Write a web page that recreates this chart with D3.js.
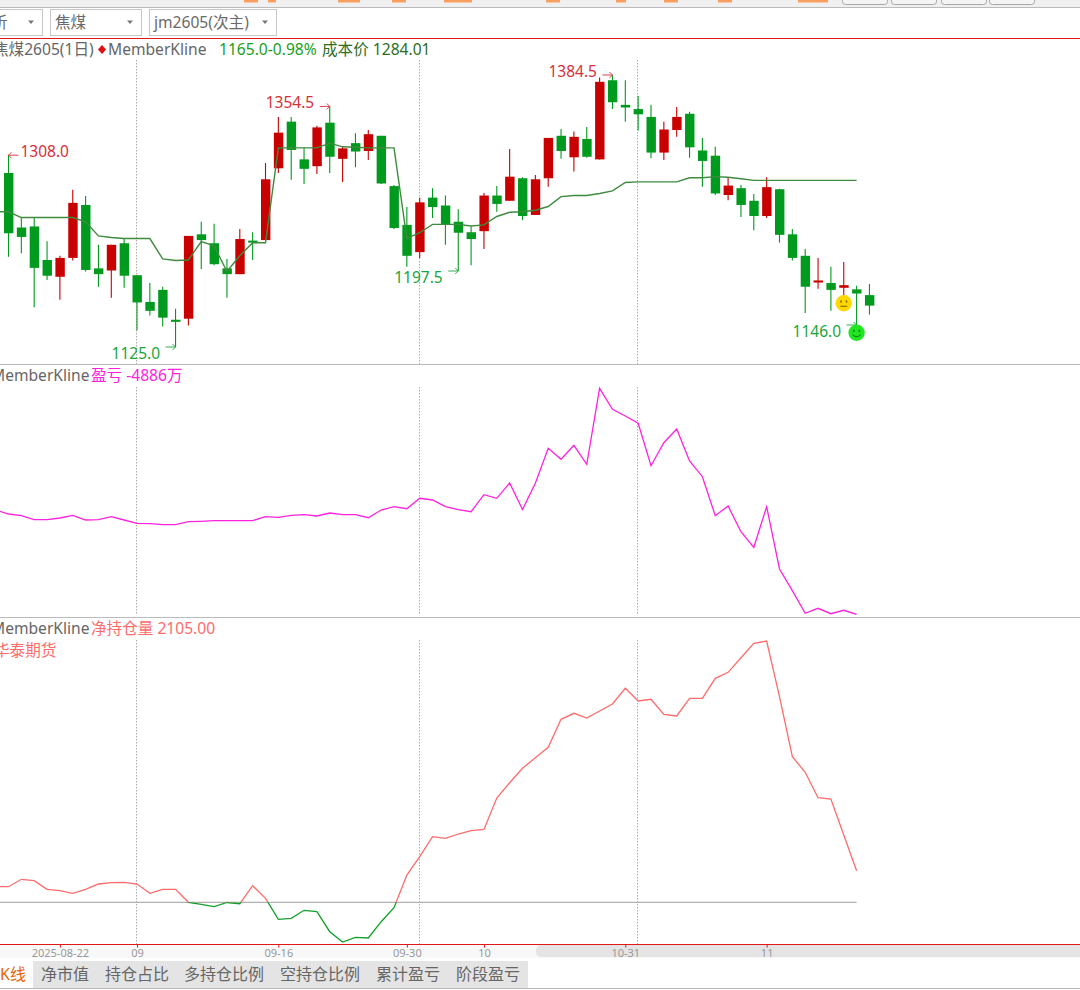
<!DOCTYPE html>
<html>
<head>
<meta charset="utf-8">
<script src="https://cdn.jsdelivr.net/npm/d3@7"></script>
<style>
html,body{margin:0;padding:0;background:#fff;overflow:hidden;}
text{font-family:"Noto Sans","Noto Sans CJK SC",sans-serif;}
</style>
</head>
<body>
<div id="chart"></div>
<script>
// kline values, one entry per visible day (first one at slot 1 of the x scale)
var opens = [1291,1239,1240,1208,1192,1210,1260.5,1200,1198,1224,1193.5,1168,1179.5,1151,1152,1232.5,1224,1200,1194.5,1226.5,1227,1295.5,1340,1304,1297.5,1339,1304.5,1319.5,1312,1326.5,1278.5,1241.5,1215.5,1267.5,1260,1244.5,1234.5,1235.5,1269.5,1264.5,1286,1251,1286,1326.5,1306,1323.5,1304,1379.5,1356,1352,1344.5,1310.5,1332,1347.5,1312.5,1307.5,1270,1276.5,1264.5,1250,1275.5,1232.5,1212,1186.5,1186,1181.5,1180,1174.5];
var highs = [1308,1249,1248.5,1226,1212,1275,1269,1222.5,1222.5,1229,1193.5,1186,1182.5,1161.5,1231,1244.5,1242.5,1209,1237.5,1234.5,1300.5,1344.5,1344.5,1315,1336,1354.5,1316,1329,1332,1326.5,1279.5,1258.5,1267.5,1276.5,1269.5,1256.5,1240,1272,1278.5,1314,1287,1289,1324.5,1333,1330.5,1335,1382,1384.5,1379.5,1364.5,1356,1340,1354,1349.5,1324.5,1316,1287,1279.5,1271,1287,1276,1237.5,1218.5,1210,1201.5,1206,1183.5,1185];
var lows = [1211,1214.5,1163,1189,1170,1207.5,1197,1182.5,1172,1181.5,1141,1155,1144.5,1125,1145.5,1199.5,1203,1172,1194.5,1208,1227,1291,1284.5,1280.5,1290,1291,1282.5,1296.5,1303.5,1280.5,1237.5,1201.5,1210,1248,1222.5,1197.5,1203,1218.5,1254,1264.5,1246,1251,1278,1304.5,1292.5,1305.5,1304,1352,1340,1331.5,1305,1303.5,1325.5,1305.5,1278,1270,1265,1249,1236.5,1248,1224.5,1207.5,1157.5,1180.5,1159.5,1173,1146,1156];
var closes = [1233.5,1230,1200.5,1193,1210,1262.5,1198.5,1194.5,1222.5,1193,1167.5,1159.5,1153,1149,1231,1227,1204,1194.5,1228,1225,1285,1329.5,1313,1295,1334.5,1306.5,1314.5,1311.5,1328,1281,1238.5,1212,1263,1258.5,1241.5,1234,1228,1269.5,1261.5,1287.5,1250,1285,1324.5,1312,1325.5,1306.5,1378,1358.5,1353.5,1347,1310.5,1332.5,1344.5,1315.5,1302.5,1271.5,1279,1260.5,1250,1277.5,1232,1210,1182.5,1188.5,1179.5,1184,1176,1164.5];

// lines start one slot earlier, they run off the left edge
var costLine = [1254,1254,1248.5,1248.5,1248.5,1248.5,1248.5,1244.5,1231,1229.5,1228.5,1228.5,1228.5,1209,1207.5,1208,1225.5,1221.5,1197,1212,1224.5,1224.5,1315,1315,1315,1315,1319.5,1316,1315.5,1315,1315,1315,1228.5,1234,1242,1242,1242,1240.5,1241.5,1249.5,1253.5,1254,1255.5,1259,1268.5,1269.5,1269.5,1271.5,1274,1282,1282.5,1282.5,1282.5,1282.5,1286.5,1286.5,1287.5,1287,1285.5,1284,1284,1284,1284,1284,1284,1284,1284,1284];
var profitLine = [5544,5144,4974,4574,4574,4744,5014,4544,4574,4874,4544,4214,4174,4074,4074,4374,4414,4474,4474,4474,4474,4874,4814,5014,5074,4944,5244,5074,5074,4774,5544,5874,5674,6714,6544,5874,5574,5374,7074,6714,8244,5594,8214,11714,10614,12014,10114,17714,15614,14944,14214,9974,12274,13644,10444,8874,4974,5944,3374,1814,5874,-356,-2526,-4786,-4286,-4826,-4486,-4886];
var netPosition = [1039,1039,1532,1439,866,773,599,866,1219,1305,1332,1219,599,866,866,0,-133,-293,-13,-93,1106,266,-1132,-1066,-533,-626,-1958,-2644,-2331,-2378,-1292,-360,1818,3037,4369,4262,4549,4769,4848,6946,7965,8924,9630,10323,12188,12587,12274,12741,13207,14252,13407,13520,12521,12408,13586,13586,14918,15318,16290,17249,17403,13693,9697,8658,6966,6880,4482,2105];

var tickSlots = [5,11,22,32,38,49,60];
var tickLabels = ["2025-08-22","09","09-16","09-30","10","10-31","11"];
var gridSlots = [11,33,50];
var tabNames = ["净市值","持仓占比","多持仓比例","空持仓比例","累计盈亏","阶段盈亏"];
var tabStarts = [41,105,184,280,376,456];

// high/low labels: slot of the bar, price, which side the arrow is on
var peakIndex = [1,26,48,14,36,67];
var peakValue = [1308,1354.5,1384.5,1125,1197.5,1146];
var peakSide = ["left","right","right","right","right","right"];

var green = "#009a1e", red = "#c80000";
var W = 1080, H = 990;

var svg = d3.select("#chart").append("svg")
    .attr("width", W)
    .attr("height", H)
    .style("display", "block");

//scales
var x = d3.scaleLinear().domain([0,68]).range([-4.35,869.45]);
var yPrice = d3.scaleLinear().domain([1125,1384.5]).range([347,75]);
var yProfit = d3.scaleLinear().domain(d3.extent(profitLine)).range([614.3,388.3]);
var yNet = d3.scaleLinear().domain(d3.extent(netPosition)).range([942,641]);

function label(px, py, str, color, size){
    return svg.append("text")
        .attr("x", px)
        .attr("y", py)
        .attr("fill", color)
        .style("font-size", (size || 15.6) + "px")
        .text(str);
}
function hline(py, color, x2){
    svg.append("line")
        .attr("x1", 0)
        .attr("x2", x2 || W)
        .attr("y1", py)
        .attr("y2", py)
        .attr("stroke", color);
}

//------- window chrome -----------
svg.append("rect").attr("width", W).attr("height", 7).attr("fill", "#f0f0f0");
var topMarks = [[244,14],[268,8],[338,22],[392,14],[444,28],[546,14],[616,10],[664,14],[718,14],[798,30]];
svg.append("g").selectAll("rect").data(topMarks).enter().append("rect")
    .attr("x", function(d){ return d[0]; })
    .attr("y", 0)
    .attr("width", function(d){ return d[1]; })
    .attr("height", 2.5)
    .attr("fill", "#f8a060");
svg.append("g").selectAll("rect").data([842,891,941,989]).enter().append("rect")
    .attr("x", function(d){ return d + 0.5; })
    .attr("y", -10)
    .attr("width", 45)
    .attr("height", 14.5)
    .attr("rx", 3)
    .attr("fill", "#f4f4f4")
    .attr("stroke", "#a8a8a8");
hline(7.5, "#bbbbbb");

var boxes = [[-30,72,"析"],[50,91,"焦煤"],[149,127,"jm2605(次主)"]];
boxes.forEach(function(b){
    svg.append("rect")
        .attr("x", b[0] + 0.5).attr("y", 9.5)
        .attr("width", b[1]).attr("height", 26)
        .attr("fill", "#fff")
        .attr("stroke", "#c8c8c8");
    label(b[0] + (b[0] < 0 ? 22 : 5), 28, b[2], "#6a6a6a", 15.6);
    var ax = b[0] + b[1] - 11;
    svg.append("path")
        .attr("d", "M" + (ax-3) + ",20.5 L" + (ax+3) + ",20.5 L" + ax + ",24 Z")
        .attr("fill", "#777");
});
hline(38.5, "#e01818");

//------- panel headers -----------
label(-7, 54.5, "焦煤2605(1日)", "#666");
svg.append("path").attr("d", "M102,45 L106,49.5 L102,54 L98,49.5 Z").attr("fill", "#e01010");
label(108, 54.5, "MemberKline", "#666");
label(219, 54.5, "1165.0-0.98%", "#1aa01a");
label(322, 54.5, "成本价 1284.01", "#2e6e1e");
label(-9, 380.5, "MemberKline", "#666");
label(91, 380.5, "盈亏 -4886万", "#ff22dd");
label(-9, 633.5, "MemberKline", "#666");
label(91, 633.5, "净持仓量 2105.00", "#ff6b6b");
label(-6, 655.5, "华泰期货", "#ff6b6b");

hline(364.5, "#bbbbbb");
hline(617.5, "#bbbbbb");

//------- dotted day grid -----------
var panels = [[60,364],[387,614],[640,944]];
panels.forEach(function(p){
    svg.append("g").selectAll("line").data(gridSlots).enter().append("line")
        .attr("x1", function(d){ return Math.round(x(d)) - 0.5; })
        .attr("x2", function(d){ return Math.round(x(d)) - 0.5; })
        .attr("y1", p[0])
        .attr("y2", p[1])
        .attr("stroke", "#aaa")
        .attr("stroke-dasharray", "1.5,1.5");
});

//------- candles -----------
var bars = svg.append("g").selectAll("g").data(opens).enter().append("g");
function barColor(d,i){ return closes[i] >= d ? red : green; }
bars.append("line")
    .attr("x1", function(d,i){ return x(i+1); })
    .attr("x2", function(d,i){ return x(i+1); })
    .attr("y1", function(d,i){ return yPrice(highs[i]); })
    .attr("y2", function(d,i){ return yPrice(lows[i]); })
    .attr("stroke", barColor)
    .attr("stroke-width", 1.1);
bars.append("rect")
    .attr("x", function(d,i){ return x(i+1) - 4.5; })
    .attr("y", function(d,i){ return yPrice(Math.max(d, closes[i])); })
    .attr("width", 9.4)
    .attr("height", function(d,i){ return Math.max(Math.abs(yPrice(d) - yPrice(closes[i])), 2); })
    .attr("fill", barColor);

//------- cost line -----------
var lineOf = function(scale){
    return d3.line()
        .x(function(d,i){ return x(i); })
        .y(function(d){ return scale(d); });
};
svg.append("path")
    .attr("d", lineOf(yPrice)(costLine))
    .attr("fill", "none")
    .attr("stroke", "#3f8a3f")
    .attr("stroke-width", 1.4);

//------- high/low annotations -----------
peakIndex.forEach(function(idx,k){
    var v = peakValue[k], px = x(idx), py = yPrice(v);
    var up = idx == 1 || idx == 26 || idx == 48;
    var col = up ? "#d8303a" : "#1aa63c";
    var a0, a1, tx;
    if(peakSide[k] == "left"){
        a0 = px + 10; a1 = px; tx = px + 12;
    }else{
        a0 = px - 10; a1 = px; tx = px - 17 - 47;
    }
    var dir = a1 > a0 ? -3 : 3;
    svg.append("path")
        .attr("d", "M" + a0 + "," + py + " L" + a1 + "," + py + " M" + (a1+dir) + "," + (py-3) + " L" + a1 + "," + py + " L" + (a1+dir) + "," + (py+3))
        .attr("fill", "none")
        .attr("stroke", col)
        .attr("stroke-width", 0.9);
    label(tx, py + (up ? 1.5 : 12), v.toFixed(1), col, 15.5);
});

//------- smiley marks -----------
function face(cx, cy, fill, ink, smile){
    var g = svg.append("g").attr("transform", "translate(" + cx + "," + cy + ")");
    g.append("circle").attr("r", 8.2).attr("fill", fill);
    g.append("rect").attr("x", -3.5).attr("y", -3).attr("width", 1.5).attr("height", 2.4).attr("fill", ink);
    g.append("rect").attr("x", 2).attr("y", -3).attr("width", 1.5).attr("height", 2.4).attr("fill", ink);
    g.append("path")
        .attr("d", smile ? "M-4,2 Q0,6 4,2" : "M-3.5,3 L3.5,3")
        .attr("fill", "none")
        .attr("stroke", ink)
        .attr("stroke-width", 1.1);
}
face(x(66), yPrice(1173) + 6.6, "#ffd800", "#8a6d00", false);
face(x(67), yPrice(1146) + 7.7, "#22e622", "#0a8a1a", true);

//------- profit panel -----------
svg.append("path")
    .attr("d", lineOf(yProfit)(profitLine))
    .attr("fill", "none")
    .attr("stroke", "#ff22dd")
    .attr("stroke-width", 1.3);

//------- net position panel -----------
svg.append("line")
    .attr("x1", 0)
    .attr("x2", x(67))
    .attr("y1", yNet(0))
    .attr("y2", yNet(0))
    .attr("stroke", "#b0b0b0")
    .attr("stroke-width", 1.2);

var defs = svg.append("defs");
defs.append("clipPath").attr("id", "aboveZero").append("rect")
    .attr("x", 0).attr("y", 0).attr("width", W).attr("height", yNet(0));
defs.append("clipPath").attr("id", "belowZero").append("rect")
    .attr("x", 0).attr("y", yNet(0)).attr("width", W).attr("height", H - yNet(0));
svg.append("path")
    .attr("d", lineOf(yNet)(netPosition))
    .attr("clip-path", "url(#aboveZero)")
    .attr("fill", "none")
    .attr("stroke", "#ff6b6b")
    .attr("stroke-width", 1.3);
svg.append("path")
    .attr("d", lineOf(yNet)(netPosition))
    .attr("clip-path", "url(#belowZero)")
    .attr("fill", "none")
    .attr("stroke", "#12a02a")
    .attr("stroke-width", 1.3);

//------- x axis and scrollbar -----------
svg.append("rect").attr("x", 0).attr("y", 945).attr("width", W).attr("height", 13).attr("fill", "#f8f8f8");
svg.append("rect")
    .attr("x", 536).attr("y", 945)
    .attr("width", W - 530).attr("height", 12)
    .attr("rx", 5)
    .attr("fill", "#e4e4e4");

var xAxis = d3.axisBottom(x)
    .tickValues(tickSlots)
    .tickSize(3)
    .tickPadding(2)
    .tickFormat(function(d){ return tickLabels[tickSlots.indexOf(d)]; });
var axisG = svg.append("g")
    .attr("transform", "translate(0,944.5)")
    .call(xAxis);
axisG.select(".domain").remove();
axisG.selectAll(".tick line").attr("stroke", "#e01818");
axisG.selectAll(".tick text")
    .attr("fill", "#999")
    .style("font-size", "11px");
hline(944.5, "#e01818");

//------- bottom tabs -----------
svg.append("rect").attr("x", 33).attr("y", 961).attr("width", 495).attr("height", 27).attr("fill", "#e4e4e4");
label(0, 979.5, "K线", "#e8650a", 16);
svg.append("g").selectAll("text").data(tabNames).enter().append("text")
    .attr("x", function(d,i){ return tabStarts[i]; })
    .attr("y", 979.5)
    .attr("fill", "#666")
    .style("font-size", "16px")
    .text(function(d){ return d; });
hline(988.5, "#b8b8b8");
</script>
</body>
</html>
